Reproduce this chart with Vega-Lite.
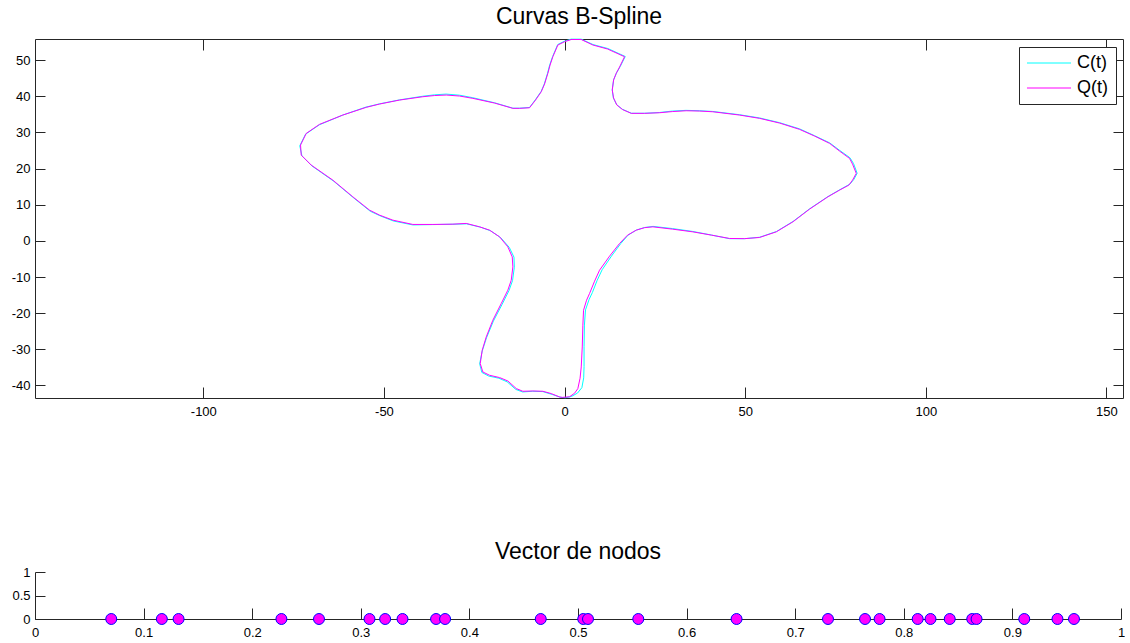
{
  "$schema": "https://vega.github.io/schema/vega-lite/v6.json",
  "background": "white",
  "padding": {"left": 11, "top": 6, "right": 0, "bottom": 0},
  "config": {
    "font": "Liberation Sans",
    "view": {"stroke": null},
    "axis": {"domainColor": "#262626", "tickColor": "#262626", "labelColor": "#000000", "labelFont": "Liberation Sans", "labelFontSize": 13, "grid": false, "title": null, "domainWidth": 1, "tickWidth": 1, "labelFlush": false, "labelOverlap": false},
    "title": {"font": "Liberation Sans", "fontSize": 23, "fontWeight": "normal", "color": "#000000", "frame": "group", "anchor": "middle"},
    "concat": {"spacing": 123}
  },
  "resolve": {"legend": {"color": "independent"}},
  "vconcat": [
    {
      "title": {"text": "Curvas B-Spline", "offset": 7},
      "width": 1088,
      "height": 359,
      "data": {"values": [
        {"s":"C(t)","i":1,"x":0.3,"y":-43.4},{"s":"C(t)","i":2,"x":2.0,"y":-43.0},{"s":"C(t)","i":3,"x":3.6,"y":-42.1},{"s":"C(t)","i":4,"x":4.8,"y":-40.6},{"s":"C(t)","i":5,"x":5.3,"y":-37.9},{"s":"C(t)","i":6,"x":5.4,"y":-34.8},{"s":"C(t)","i":7,"x":5.4,"y":-29.3},{"s":"C(t)","i":8,"x":5.5,"y":-23.3},{"s":"C(t)","i":9,"x":5.8,"y":-19.1},{"s":"C(t)","i":10,"x":6.8,"y":-16.2},
        {"s":"C(t)","i":11,"x":7.7,"y":-14.3},{"s":"C(t)","i":12,"x":9.0,"y":-11.0},{"s":"C(t)","i":13,"x":10.4,"y":-8.0},{"s":"C(t)","i":14,"x":13.0,"y":-4.2},{"s":"C(t)","i":15,"x":15.6,"y":-0.7},{"s":"C(t)","i":16,"x":17.6,"y":1.6},{"s":"C(t)","i":17,"x":19.9,"y":3.0},{"s":"C(t)","i":18,"x":22.2,"y":3.7},{"s":"C(t)","i":19,"x":24.5,"y":4.0},{"s":"C(t)","i":20,"x":29.9,"y":3.4},
        {"s":"C(t)","i":21,"x":35.5,"y":2.6},{"s":"C(t)","i":22,"x":40.7,"y":1.6},{"s":"C(t)","i":23,"x":45.7,"y":0.6},{"s":"C(t)","i":24,"x":49.8,"y":0.6},{"s":"C(t)","i":25,"x":54.0,"y":1.0},{"s":"C(t)","i":26,"x":58.7,"y":2.6},{"s":"C(t)","i":27,"x":63.3,"y":5.4},{"s":"C(t)","i":28,"x":67.9,"y":8.9},{"s":"C(t)","i":29,"x":73.0,"y":12.3},{"s":"C(t)","i":30,"x":76.3,"y":14.2},
        {"s":"C(t)","i":31,"x":79.0,"y":15.7},{"s":"C(t)","i":32,"x":80.1,"y":17.0},{"s":"C(t)","i":33,"x":81.0,"y":18.7},{"s":"C(t)","i":34,"x":80.0,"y":21.4},{"s":"C(t)","i":35,"x":79.0,"y":23.0},{"s":"C(t)","i":36,"x":76.2,"y":25.0},{"s":"C(t)","i":37,"x":73.4,"y":27.1},{"s":"C(t)","i":38,"x":69.2,"y":29.1},{"s":"C(t)","i":39,"x":65.0,"y":31.0},{"s":"C(t)","i":40,"x":59.5,"y":32.7},
        {"s":"C(t)","i":41,"x":54.0,"y":34.0},{"s":"C(t)","i":42,"x":48.4,"y":34.9},{"s":"C(t)","i":43,"x":41.0,"y":35.8},{"s":"C(t)","i":44,"x":37.3,"y":36.0},{"s":"C(t)","i":45,"x":33.6,"y":36.1},{"s":"C(t)","i":46,"x":29.8,"y":35.9},{"s":"C(t)","i":47,"x":26.2,"y":35.5},{"s":"C(t)","i":48,"x":22.1,"y":35.3},{"s":"C(t)","i":49,"x":18.5,"y":35.3},{"s":"C(t)","i":50,"x":16.0,"y":36.4},
        {"s":"C(t)","i":51,"x":14.4,"y":37.7},{"s":"C(t)","i":52,"x":13.5,"y":39.6},{"s":"C(t)","i":53,"x":13.2,"y":41.8},{"s":"C(t)","i":54,"x":13.6,"y":44.6},{"s":"C(t)","i":55,"x":14.4,"y":46.5},{"s":"C(t)","i":56,"x":15.4,"y":48.2},{"s":"C(t)","i":57,"x":16.8,"y":51.0},{"s":"C(t)","i":58,"x":12.0,"y":53.2},{"s":"C(t)","i":59,"x":7.9,"y":54.3},{"s":"C(t)","i":60,"x":4.6,"y":55.8},
        {"s":"C(t)","i":61,"x":1.8,"y":55.8},{"s":"C(t)","i":62,"x":-0.1,"y":55.2},{"s":"C(t)","i":63,"x":-1.9,"y":54.3},{"s":"C(t)","i":64,"x":-3.3,"y":51.0},{"s":"C(t)","i":65,"x":-4.1,"y":48.7},{"s":"C(t)","i":66,"x":-4.7,"y":46.4},{"s":"C(t)","i":67,"x":-5.6,"y":43.4},{"s":"C(t)","i":68,"x":-6.5,"y":41.3},{"s":"C(t)","i":69,"x":-8.1,"y":39.0},{"s":"C(t)","i":70,"x":-9.7,"y":36.9},
        {"s":"C(t)","i":71,"x":-12.5,"y":36.7},{"s":"C(t)","i":72,"x":-14.3,"y":36.7},{"s":"C(t)","i":73,"x":-19.4,"y":38.2},{"s":"C(t)","i":74,"x":-25.4,"y":39.6},{"s":"C(t)","i":75,"x":-29.1,"y":40.3},{"s":"C(t)","i":76,"x":-32.8,"y":40.6},{"s":"C(t)","i":77,"x":-36.0,"y":40.4},{"s":"C(t)","i":78,"x":-39.3,"y":40.0},{"s":"C(t)","i":79,"x":-45.7,"y":39.0},{"s":"C(t)","i":80,"x":-51.2,"y":37.9},
        {"s":"C(t)","i":81,"x":-55.0,"y":37.0},{"s":"C(t)","i":82,"x":-61.4,"y":34.8},{"s":"C(t)","i":83,"x":-67.9,"y":32.1},{"s":"C(t)","i":84,"x":-71.7,"y":29.5},{"s":"C(t)","i":85,"x":-73.3,"y":26.3},{"s":"C(t)","i":86,"x":-72.7,"y":23.5},{"s":"C(t)","i":87,"x":-69.9,"y":20.7},{"s":"C(t)","i":88,"x":-63.9,"y":16.5},{"s":"C(t)","i":89,"x":-58.4,"y":11.9},{"s":"C(t)","i":90,"x":-53.8,"y":8.2},
        {"s":"C(t)","i":91,"x":-51.0,"y":6.9},{"s":"C(t)","i":92,"x":-47.4,"y":5.5},{"s":"C(t)","i":93,"x":-42.0,"y":4.4},{"s":"C(t)","i":94,"x":-36.5,"y":4.5},{"s":"C(t)","i":95,"x":-30.9,"y":4.6},{"s":"C(t)","i":96,"x":-27.1,"y":4.7},{"s":"C(t)","i":97,"x":-23.3,"y":3.8},{"s":"C(t)","i":98,"x":-20.5,"y":2.8},{"s":"C(t)","i":99,"x":-17.7,"y":0.9},{"s":"C(t)","i":100,"x":-15.3,"y":-1.8},
        {"s":"C(t)","i":101,"x":-14.0,"y":-4.5},{"s":"C(t)","i":102,"x":-13.9,"y":-7.3},{"s":"C(t)","i":103,"x":-14.4,"y":-11.0},{"s":"C(t)","i":104,"x":-15.4,"y":-13.8},{"s":"C(t)","i":105,"x":-17.3,"y":-17.6},{"s":"C(t)","i":106,"x":-19.7,"y":-22.2},{"s":"C(t)","i":107,"x":-21.6,"y":-26.8},{"s":"C(t)","i":108,"x":-22.8,"y":-30.5},{"s":"C(t)","i":109,"x":-23.5,"y":-34.0},{"s":"C(t)","i":110,"x":-22.9,"y":-36.4},
        {"s":"C(t)","i":111,"x":-21.0,"y":-37.4},{"s":"C(t)","i":112,"x":-18.2,"y":-38.0},{"s":"C(t)","i":113,"x":-15.9,"y":-39.0},{"s":"C(t)","i":114,"x":-13.5,"y":-41.1},{"s":"C(t)","i":115,"x":-11.6,"y":-41.8},{"s":"C(t)","i":116,"x":-8.8,"y":-41.6},{"s":"C(t)","i":117,"x":-6.0,"y":-41.7},{"s":"C(t)","i":118,"x":-3.4,"y":-42.5},{"s":"C(t)","i":119,"x":-1.0,"y":-43.3},{"s":"C(t)","i":120,"x":0.3,"y":-43.4},
        {"s":"Q(t)","i":1,"x":-0.55,"y":-43.3},{"s":"Q(t)","i":2,"x":1.38,"y":-43.13},{"s":"Q(t)","i":3,"x":2.77,"y":-42.16},{"s":"Q(t)","i":4,"x":3.68,"y":-40.86},{"s":"Q(t)","i":5,"x":4.29,"y":-38.01},{"s":"Q(t)","i":6,"x":4.62,"y":-34.88},{"s":"Q(t)","i":7,"x":4.9,"y":-29.35},{"s":"Q(t)","i":8,"x":5.07,"y":-23.34},{"s":"Q(t)","i":9,"x":5.26,"y":-19.19},{"s":"Q(t)","i":10,"x":6.09,"y":-16.42},
        {"s":"Q(t)","i":11,"x":6.92,"y":-14.56},{"s":"Q(t)","i":12,"x":8.31,"y":-11.16},{"s":"Q(t)","i":13,"x":9.69,"y":-8.11},{"s":"Q(t)","i":14,"x":12.46,"y":-4.24},{"s":"Q(t)","i":15,"x":15.23,"y":-0.72},{"s":"Q(t)","i":16,"x":17.44,"y":1.58},{"s":"Q(t)","i":17,"x":19.85,"y":2.96},{"s":"Q(t)","i":18,"x":22.15,"y":3.65},{"s":"Q(t)","i":19,"x":24.45,"y":3.88},{"s":"Q(t)","i":20,"x":29.9,"y":3.24},
        {"s":"Q(t)","i":21,"x":35.52,"y":2.49},{"s":"Q(t)","i":22,"x":40.7,"y":1.58},{"s":"Q(t)","i":23,"x":45.68,"y":0.66},{"s":"Q(t)","i":24,"x":49.83,"y":0.61},{"s":"Q(t)","i":25,"x":53.99,"y":0.94},{"s":"Q(t)","i":26,"x":58.61,"y":2.49},{"s":"Q(t)","i":27,"x":63.21,"y":5.26},{"s":"Q(t)","i":28,"x":67.83,"y":8.78},{"s":"Q(t)","i":29,"x":72.9,"y":12.18},{"s":"Q(t)","i":30,"x":76.14,"y":14.04},
        {"s":"Q(t)","i":31,"x":78.71,"y":15.42},{"s":"Q(t)","i":32,"x":79.73,"y":16.8},{"s":"Q(t)","i":33,"x":80.76,"y":18.66},{"s":"Q(t)","i":34,"x":79.73,"y":21.23},{"s":"Q(t)","i":35,"x":78.9,"y":22.81},{"s":"Q(t)","i":36,"x":76.14,"y":24.83},{"s":"Q(t)","i":37,"x":73.37,"y":26.97},{"s":"Q(t)","i":38,"x":69.21,"y":28.99},{"s":"Q(t)","i":39,"x":65.06,"y":30.84},{"s":"Q(t)","i":40,"x":59.52,"y":32.59},
        {"s":"Q(t)","i":41,"x":53.99,"y":33.89},{"s":"Q(t)","i":42,"x":48.45,"y":34.8},{"s":"Q(t)","i":43,"x":41.06,"y":35.71},{"s":"Q(t)","i":44,"x":37.38,"y":35.91},{"s":"Q(t)","i":45,"x":33.69,"y":35.99},{"s":"Q(t)","i":46,"x":29.9,"y":35.77},{"s":"Q(t)","i":47,"x":26.3,"y":35.44},{"s":"Q(t)","i":48,"x":22.15,"y":35.27},{"s":"Q(t)","i":49,"x":18.47,"y":35.27},{"s":"Q(t)","i":50,"x":16.06,"y":36.32},
        {"s":"Q(t)","i":51,"x":14.48,"y":37.57},{"s":"Q(t)","i":52,"x":13.57,"y":39.51},{"s":"Q(t)","i":53,"x":13.21,"y":41.72},{"s":"Q(t)","i":54,"x":13.57,"y":44.49},{"s":"Q(t)","i":55,"x":14.31,"y":46.35},{"s":"Q(t)","i":56,"x":15.23,"y":48.09},{"s":"Q(t)","i":57,"x":16.61,"y":50.94},{"s":"Q(t)","i":58,"x":11.9,"y":53.07},{"s":"Q(t)","i":59,"x":7.84,"y":54.18},{"s":"Q(t)","i":60,"x":4.62,"y":55.7},
        {"s":"Q(t)","i":61,"x":1.85,"y":55.7},{"s":"Q(t)","i":62,"x":0,"y":55.09},{"s":"Q(t)","i":63,"x":-1.85,"y":54.18},{"s":"Q(t)","i":64,"x":-3.24,"y":50.94},{"s":"Q(t)","i":65,"x":-4.01,"y":48.64},{"s":"Q(t)","i":66,"x":-4.62,"y":46.35},{"s":"Q(t)","i":67,"x":-5.54,"y":43.38},{"s":"Q(t)","i":68,"x":-6.45,"y":41.25},{"s":"Q(t)","i":69,"x":-8.03,"y":38.95},{"s":"Q(t)","i":70,"x":-9.69,"y":36.82},
        {"s":"Q(t)","i":71,"x":-12.46,"y":36.66},{"s":"Q(t)","i":72,"x":-14.31,"y":36.66},{"s":"Q(t)","i":73,"x":-19.38,"y":38.12},{"s":"Q(t)","i":74,"x":-25.39,"y":39.42},{"s":"Q(t)","i":75,"x":-29.07,"y":40.06},{"s":"Q(t)","i":76,"x":-32.75,"y":40.34},{"s":"Q(t)","i":77,"x":-35.99,"y":40.2},{"s":"Q(t)","i":78,"x":-39.23,"y":39.87},{"s":"Q(t)","i":79,"x":-45.68,"y":38.95},{"s":"Q(t)","i":80,"x":-51.22,"y":37.85},
        {"s":"Q(t)","i":81,"x":-54.9,"y":36.93},{"s":"Q(t)","i":82,"x":-61.38,"y":34.8},{"s":"Q(t)","i":83,"x":-67.83,"y":32.23},{"s":"Q(t)","i":84,"x":-71.51,"y":29.73},{"s":"Q(t)","i":85,"x":-73.09,"y":26.5},{"s":"Q(t)","i":86,"x":-72.9,"y":23.73},{"s":"Q(t)","i":87,"x":-70.13,"y":20.96},{"s":"Q(t)","i":88,"x":-64.15,"y":16.8},{"s":"Q(t)","i":89,"x":-58.61,"y":12.18},{"s":"Q(t)","i":90,"x":-53.99,"y":8.5},
        {"s":"Q(t)","i":91,"x":-51.22,"y":7.12},{"s":"Q(t)","i":92,"x":-47.54,"y":5.73},{"s":"Q(t)","i":93,"x":-42.0,"y":4.54},{"s":"Q(t)","i":94,"x":-36.46,"y":4.54},{"s":"Q(t)","i":95,"x":-30.92,"y":4.62},{"s":"Q(t)","i":96,"x":-27.21,"y":4.82},{"s":"Q(t)","i":97,"x":-23.53,"y":3.88},{"s":"Q(t)","i":98,"x":-20.76,"y":2.96},{"s":"Q(t)","i":99,"x":-17.99,"y":1.11},{"s":"Q(t)","i":100,"x":-15.7,"y":-1.66},
        {"s":"Q(t)","i":101,"x":-14.48,"y":-4.43},{"s":"Q(t)","i":102,"x":-14.31,"y":-7.2},{"s":"Q(t)","i":103,"x":-14.76,"y":-10.88},{"s":"Q(t)","i":104,"x":-15.7,"y":-13.65},{"s":"Q(t)","i":105,"x":-17.52,"y":-17.33},{"s":"Q(t)","i":106,"x":-19.85,"y":-21.95},{"s":"Q(t)","i":107,"x":-21.68,"y":-26.58},{"s":"Q(t)","i":108,"x":-22.79,"y":-30.26},{"s":"Q(t)","i":109,"x":-23.34,"y":-33.94},{"s":"Q(t)","i":110,"x":-22.62,"y":-36.27},
        {"s":"Q(t)","i":111,"x":-20.76,"y":-37.18},{"s":"Q(t)","i":112,"x":-17.99,"y":-37.82},{"s":"Q(t)","i":113,"x":-15.7,"y":-38.76},{"s":"Q(t)","i":114,"x":-13.37,"y":-40.86},{"s":"Q(t)","i":115,"x":-11.54,"y":-41.61},{"s":"Q(t)","i":116,"x":-8.78,"y":-41.53},{"s":"Q(t)","i":117,"x":-6.01,"y":-41.61},{"s":"Q(t)","i":118,"x":-3.68,"y":-42.25},{"s":"Q(t)","i":119,"x":-1.38,"y":-43.19},{"s":"Q(t)","i":120,"x":-0.55,"y":-43.3}
      ]},
      "layer": [
        {
          "mark": {"type": "line", "strokeWidth": 1, "interpolate": "linear"},
          "encoding": {
            "x": {"field": "x", "type": "quantitative", "scale": {"domain": [-146.6, 154.6], "nice": false, "zero": false}, "axis": {"orient": "bottom", "values": [-100, -50, 0, 50, 100, 150], "tickSize": -11, "labelPadding": 18, "labelExpr": "toString(datum.value)"}},
            "y": {"field": "y", "type": "quantitative", "scale": {"domain": [-43.47, 55.84], "nice": false, "zero": false}, "axis": {"orient": "left", "values": [-40, -30, -20, -10, 0, 10, 20, 30, 40, 50], "tickSize": -10, "labelPadding": 15, "labelExpr": "toString(datum.value)"}},
            "order": {"field": "i", "type": "quantitative"},
            "color": {"field": "s", "type": "nominal", "scale": {"domain": ["C(t)", "Q(t)"], "range": ["#00FFFF", "#FF00FF"]},
              "legend": {"title": null, "orient": "none", "legendX": 984, "legendY": 8, "direction": "vertical", "symbolType": "M-2.59,0H2.59", "symbolSize": 289, "symbolStrokeWidth": 1, "symbolOffset": 14, "labelOffset": 19.1, "labelFontSize": 18, "labelFont": "Liberation Sans", "labelColor": "#000000", "padding": 7, "rowPadding": 7, "strokeColor": "#262626", "fillColor": "#ffffff", "cornerRadius": 0}}
          }
        },
        {
          "mark": {"type": "point", "opacity": 0},
          "encoding": {
            "x": {"field": "x", "type": "quantitative", "scale": {"domain": [-146.6, 154.6], "nice": false, "zero": false}, "axis": {"orient": "top", "values": [-100, -50, 0, 50, 100, 150], "tickSize": -11, "labels": false}},
            "y": {"field": "y", "type": "quantitative", "scale": {"domain": [-43.47, 55.84], "nice": false, "zero": false}, "axis": {"orient": "right", "values": [-40, -30, -20, -10, 0, 10, 20, 30, 40, 50], "tickSize": -10, "labels": false}}
          }
        }
      ],
      "resolve": {"axis": {"x": "independent", "y": "independent"}}
    },
    {
      "title": {"text": "Vector de nodos", "offset": 2},
      "width": 1086,
      "height": 47,
      "data": {"values": [
        {"t":0.0702},{"t":0.1168},{"t":0.1322},{"t":0.2269},{"t":0.2615},{"t":0.308},{"t":0.3224},{"t":0.3384},{"t":0.3693},{"t":0.3776},{"t":0.4657},{"t":0.5048},{"t":0.5092},{"t":0.5555},{"t":0.646},{"t":0.7302},{"t":0.7643},{"t":0.7777},{"t":0.8128},{"t":0.8246},{"t":0.8423},{"t":0.863},{"t":0.867},{"t":0.9109},{"t":0.9415},{"t":0.9567}
      ]},
      "mark": {"type": "point", "filled": true, "size": 120, "fill": "#FF00FF", "stroke": "#0000FF", "strokeWidth": 1, "opacity": 1},
      "encoding": {
        "x": {"field": "t", "type": "quantitative", "scale": {"domain": [0, 1], "nice": false, "zero": false}, "axis": {"values": [0, 0.1, 0.2, 0.3, 0.4, 0.5, 0.6, 0.7, 0.8, 0.9, 1], "tickSize": -11, "labelPadding": 18, "labelExpr": "toString(datum.value)"}},
        "y": {"datum": 0, "type": "quantitative", "scale": {"domain": [0, 1], "nice": false}, "axis": {"values": [0, 0.5, 1], "tickSize": -10, "labelPadding": 15, "labelExpr": "toString(datum.value)"}}
      }
    }
  ]
}
